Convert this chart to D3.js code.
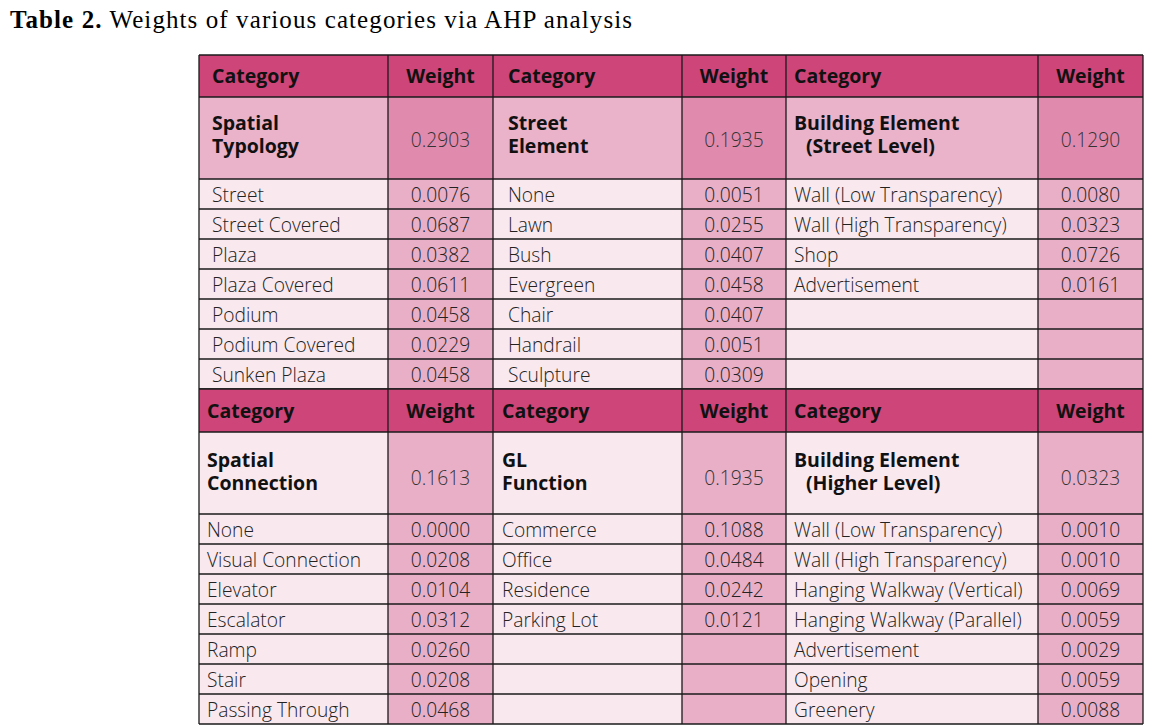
<!DOCTYPE html>
<html lang="en">
<head>
<meta charset="utf-8">
<title>Table 2 - AHP weights</title>
<script src="https://d3js.org/d3.v7.min.js"></script>
<style>
  body { margin: 0; background: #fff; }
  svg text { font-family: 'Open Sans', 'Noto Sans', sans-serif; }
</style>
</head>
<body>
<div id="chart"></div>
<script>

/* Data */
/* ==== */

var groupNames = [
  ['Spatial', 'Typology'],
  ['Street', 'Element'],
  ['Building Element', '(Street Level)'],
  ['Spatial', 'Connection'],
  ['GL', 'Function'],
  ['Building Element', '(Higher Level)']
];
var groupWeights = ['0.2903', '0.1935', '0.1290', '0.1613', '0.1935', '0.0323'];

var subItems = [
  ['Street', 'Street Covered', 'Plaza', 'Plaza Covered', 'Podium', 'Podium Covered', 'Sunken Plaza'],
  ['None', 'Lawn', 'Bush', 'Evergreen', 'Chair', 'Handrail', 'Sculpture'],
  ['Wall (Low Transparency)', 'Wall (High Transparency)', 'Shop', 'Advertisement'],
  ['None', 'Visual Connection', 'Elevator', 'Escalator', 'Ramp', 'Stair', 'Passing Through'],
  ['Commerce', 'Office', 'Residence', 'Parking Lot'],
  ['Wall (Low Transparency)', 'Wall (High Transparency)', 'Hanging Walkway (Vertical)',
   'Hanging Walkway (Parallel)', 'Advertisement', 'Opening', 'Greenery']
];
var subWeights = [
  ['0.0076', '0.0687', '0.0382', '0.0611', '0.0458', '0.0229', '0.0458'],
  ['0.0051', '0.0255', '0.0407', '0.0458', '0.0407', '0.0051', '0.0309'],
  ['0.0080', '0.0323', '0.0726', '0.0161'],
  ['0.0000', '0.0208', '0.0104', '0.0312', '0.0260', '0.0208', '0.0468'],
  ['0.1088', '0.0484', '0.0242', '0.0121'],
  ['0.0010', '0.0010', '0.0069', '0.0059', '0.0029', '0.0059', '0.0088']
];

var headerLabels = ['Category', 'Weight'];
var titleBold = 'Table 2.';
var titleText = ' Weights of various categories via AHP analysis';


/* Layout */
/* ====== */

var width = 1163, height = 728;
var colEdges = [199, 388, 493, 682, 786, 1038, 1143];
var nRows = 7;

// vertical layout of each block: header, main row, sub rows
var blocks = [
  { top: 55,  head: 42, main: 82, row: 30, pad: [13, 15, 8], mainBase: 130, wOff: 17 },
  { top: 389, head: 43, main: 82, row: 30, pad: [8, 9, 8],   mainBase: 467, wOff: 18 }
];

var colors = {
  header: '#CD4579',
  mainCatTop: '#EAB3C9',
  mainWtTop: '#E08AAE',
  light: '#F9E9EF',
  pink: '#E8AFC7',
  line: '#1a1a1a'
};

var bodySize = 19.2;

var svg = d3.select('#chart').append('svg')
    .attr('width', width)
    .attr('height', height);

// Title
var title = svg.append('text')
    .attr('x', 10)
    .attr('y', 28)
    .attr('textLength', 622)
    .attr('lengthAdjust', 'spacing')
    .style('font-family', "'Liberation Serif', 'Times New Roman', serif")
    .style('font-size', '25px')
    .attr('fill', '#000');
title.append('tspan').attr('font-weight', 'bold').text(titleBold);
title.append('tspan').text(titleText);

var g = svg.append('g');

blocks.forEach(function(b, bi) {

  var headY = b.top,
      mainY = b.top + b.head,
      subY = mainY + b.main;

  var rowY = d3.scaleLinear().domain([0, nRows]).range([subY, subY + nRows * b.row]);

  for (var c = 0; c < 3; c++) {

    var gi = bi * 3 + c,
        x0 = colEdges[c * 2], x1 = colEdges[c * 2 + 1], x2 = colEdges[c * 2 + 2],
        wc = (x1 + x2) / 2,
        tx = x0 + b.pad[c];

    // Header row
    g.append('rect').attr('x', x0).attr('y', headY).attr('width', x2 - x0).attr('height', b.head)
      .attr('fill', colors.header);
    g.append('text').attr('x', tx).attr('y', headY + b.head / 2 + 7)
      .attr('font-size', 19.5).attr('font-weight', 'bold').attr('fill', '#111')
      .text(headerLabels[0]);
    g.append('text').attr('x', wc).attr('y', headY + b.head / 2 + 7)
      .attr('text-anchor', 'middle')
      .attr('font-size', 19.5).attr('font-weight', 'bold').attr('fill', '#111')
      .text(headerLabels[1]);

    // Main category row
    g.append('rect').attr('x', x0).attr('y', mainY).attr('width', x1 - x0).attr('height', b.main)
      .attr('fill', bi === 0 ? colors.mainCatTop : colors.light);
    g.append('rect').attr('x', x1).attr('y', mainY).attr('width', x2 - x1).attr('height', b.main)
      .attr('fill', bi === 0 ? colors.mainWtTop : colors.pink);

    var mt = g.append('text')
      .attr('y', b.mainBase)
      .attr('font-size', 19.5).attr('font-weight', 'bold').attr('fill', '#111');
    groupNames[gi].forEach(function(line, li) {
      mt.append('tspan')
        .attr('x', tx + (line.charAt(0) === '(' ? 12 : 0))
        .attr('dy', li === 0 ? 0 : 23)
        .text(line);
    });
    g.append('text').attr('x', wc).attr('y', b.mainBase + b.wOff)
      .attr('text-anchor', 'middle')
      .attr('font-size', bodySize).attr('font-weight', 300).attr('fill', '#333')
      .text(groupWeights[gi]);

    // Sub rows
    d3.range(nRows).forEach(function(r) {
      var y = rowY(r), h = rowY(r + 1) - rowY(r);
      g.append('rect').attr('x', x0).attr('y', y).attr('width', x1 - x0).attr('height', h)
        .attr('fill', colors.light);
      g.append('rect').attr('x', x1).attr('y', y).attr('width', x2 - x1).attr('height', h)
        .attr('fill', colors.pink);
      if (r < subItems[gi].length) {
        g.append('text').attr('x', tx).attr('y', y + h / 2 + 8)
          .attr('font-size', bodySize).attr('font-weight', 300).attr('fill', '#222')
          .text(subItems[gi][r]);
        g.append('text').attr('x', wc).attr('y', y + h / 2 + 8)
          .attr('text-anchor', 'middle')
          .attr('font-size', bodySize).attr('font-weight', 300).attr('fill', '#222')
          .text(subWeights[gi][r]);
      }
    });
  }

  // Grid lines
  var bottom = rowY(nRows);
  var hLines = [headY, mainY].concat(d3.range(nRows + 1).map(rowY));
  hLines.forEach(function(y) {
    g.append('line').attr('x1', colEdges[0]).attr('x2', colEdges[6])
      .attr('y1', y).attr('y2', y)
      .attr('stroke', colors.line).attr('stroke-width', 1.3);
  });
  colEdges.forEach(function(x) {
    g.append('line').attr('x1', x).attr('x2', x)
      .attr('y1', headY).attr('y2', bottom)
      .attr('stroke', colors.line).attr('stroke-width', 1.3);
  });

});

</script>
</body>
</html>
